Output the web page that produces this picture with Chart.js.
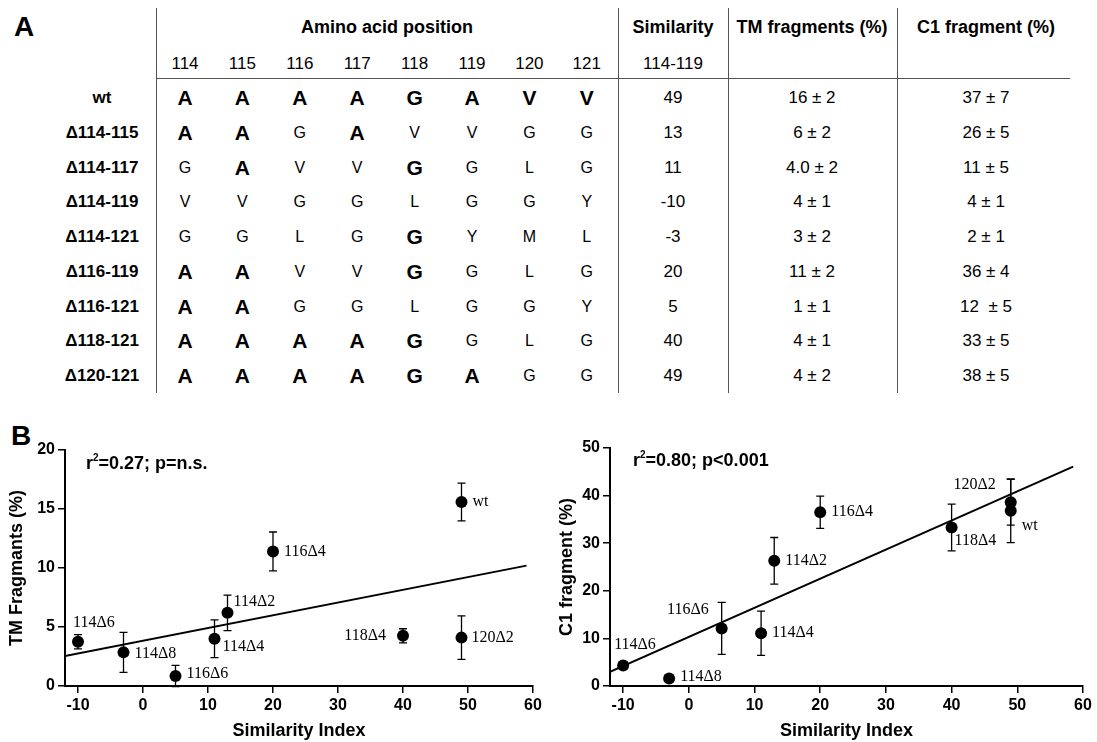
<!DOCTYPE html>
<html>
<head>
<meta charset="utf-8">
<script src="https://cdn.jsdelivr.net/npm/chart.js@4.4.1/dist/chart.umd.min.js"></script>
<style>
html,body{margin:0;padding:0;background:#fff;}
#page{position:relative;width:1097px;height:742px;overflow:hidden;font-family:"Liberation Sans",Arial,sans-serif;color:#000;background:#fff;}
.t{position:absolute;white-space:pre;transform:translate(-50%,-50%);line-height:1;}
.b{font-weight:bold;}
.rule{position:absolute;background:#555;}
canvas{position:absolute;}
</style>
</head>
<body>
<div id="page">
  <div id="table"></div>
  <canvas id="tmChart" width="550" height="322" style="left:0px;top:420px;width:550px;height:322px"></canvas>
  <canvas id="c1Chart" width="547" height="322" style="left:550px;top:420px;width:547px;height:322px"></canvas>
</div>
<script>
// ---------- Panel A data ----------
const positions = ['114','115','116','117','118','119','120','121'];
const mutants = ['wt','\u0394114-115','\u0394114-117','\u0394114-119','\u0394114-121','\u0394116-119','\u0394116-121','\u0394118-121','\u0394120-121'];
const sequences = [
  ['A','A','A','A','G','A','V','V'],
  ['A','A','G','A','V','V','G','G'],
  ['G','A','V','V','G','G','L','G'],
  ['V','V','G','G','L','G','G','Y'],
  ['G','G','L','G','G','Y','M','L'],
  ['A','A','V','V','G','G','L','G'],
  ['A','A','G','G','L','G','G','Y'],
  ['A','A','A','A','G','G','L','G'],
  ['A','A','A','A','G','A','G','G']
];
const similarityValues = ['49','13','11','-10','-3','20','5','40','49'];
const tmFragmentText = ['16 \u00b1 2','6 \u00b1 2','4.0 \u00b1 2','4 \u00b1 1','3 \u00b1 2','11 \u00b1 2','1 \u00b1 1','4 \u00b1 1','4 \u00b1 2'];
const c1FragmentText = ['37 \u00b1 7','26 \u00b1 5','11 \u00b1 5','4 \u00b1 1','2 \u00b1 1','36 \u00b1 4','12  \u00b1 5','33 \u00b1 5','38 \u00b1 5'];

// ---------- Panel B data ----------
const pointLabels = ['wt','114\u03942','114\u03944','114\u03946','114\u03948','116\u03944','116\u03946','118\u03944','120\u03942'];
const similarityIndex = [49, 13, 11, -10, -3, 20, 5, 40, 49];
const tmMean = [15.6, 6.2, 4.0, 3.75, 2.85, 11.4, 0.85, 4.25, 4.1];
const tmErr  = [1.6, 1.5, 1.6, 0.6, 1.7, 1.65, 0.9, 0.6, 1.85];
const c1Mean = [36.8, 26.3, 11.1, 4.3, 1.6, 36.5, 12.1, 33.3, 38.6];
const c1Err  = [6.7, 4.9, 4.65, 0.8, 0.8, 3.4, 5.45, 4.9, 4.8];
const tmFitX = [-12, 59];
const tmFitY = [2.55, 10.2];
const c1FitX = [-12, 58.5];
const c1FitY = [3.0, 46.1];
const xTickValues = [-10, 0, 10, 20, 30, 40, 50, 60];
const tmTickValues = [0, 5, 10, 15, 20];
const c1TickValues = [0, 10, 20, 30, 40, 50];

// ---------- build table (layout) ----------
const SANS = '"Liberation Sans", Arial, sans-serif';
const SERIF = '"Liberation Serif", "Times New Roman", serif';
const page = document.getElementById('table');
function txt(s, x, y, size, bold) {
  const d = document.createElement('div');
  d.className = 't' + (bold ? ' b' : '');
  d.textContent = s;
  d.style.left = x + 'px'; d.style.top = y + 'px'; d.style.fontSize = size + 'px';
  page.appendChild(d);
}
function rule(x, y, w, h) {
  const d = document.createElement('div');
  d.className = 'rule';
  d.style.left = x + 'px'; d.style.top = y + 'px'; d.style.width = w + 'px'; d.style.height = h + 'px';
  page.appendChild(d);
}
const colX = positions.map((_, i) => 185 + i * 57.4);
const rowY = mutants.map((_, i) => 97 + i * 34.75);
const simX = 673, tmX = 812, c1X = 986, labelX = 102;
txt('A', 24, 27, 28, true);
txt('Amino acid position', 387, 27, 18, true);
txt('Similarity', simX, 27, 18, true);
txt('TM fragments (%)', tmX, 27, 18, true);
txt('C1 fragment (%)', c1X, 27, 18, true);
positions.forEach((p, i) => txt(p, colX[i], 63, 17, false));
txt('114-119', simX, 63, 17, false);
rule(156, 8, 1, 385); rule(618, 8, 1, 385); rule(728, 8, 1, 385); rule(897, 8, 1, 385);
rule(156, 78, 914, 1);
mutants.forEach((m, r) => {
  txt(m, labelX, rowY[r], 17, true);
  sequences[r].forEach((aa, c) => {
    const same = aa === sequences[0][c];
    txt(aa, colX[c], rowY[r] + (same ? 0 : 1), same ? 21 : 16, same);
  });
  txt(similarityValues[r], simX, rowY[r], 17, false);
  txt(tmFragmentText[r], tmX, rowY[r], 17, false);
  txt(c1FragmentText[r], c1X, rowY[r], 17, false);
});
// B label
txt('B', 21, 436, 28, true);

// ---------- charts ----------
function overlayPlugin(errors, labelOffsets, note) {
  return {
    id: 'overlay',
    afterDatasetsDraw(chart) {
      const ctx = chart.ctx, xs = chart.scales.x, ys = chart.scales.y;
      const pts = chart.data.datasets[1].data;
      ctx.save();
      ctx.strokeStyle = '#000'; ctx.lineWidth = 1.3;
      pts.forEach((p, i) => {
        const e = errors[i];
        const px = xs.getPixelForValue(p.x);
        const t = ys.getPixelForValue(p.y + e), b = ys.getPixelForValue(p.y - e);
        ctx.beginPath();
        ctx.moveTo(px, t); ctx.lineTo(px, b);
        ctx.moveTo(px - 4, t); ctx.lineTo(px + 4, t);
        ctx.moveTo(px - 4, b); ctx.lineTo(px + 4, b);
        ctx.stroke();
      });
      ctx.fillStyle = '#000';
      ctx.font = '16px ' + SERIF;
      ctx.textBaseline = 'middle';
      pts.forEach((p, i) => {
        const o = labelOffsets[pointLabels[i]];
        ctx.textAlign = o[2];
        ctx.fillText(pointLabels[i], xs.getPixelForValue(p.x) + o[0], ys.getPixelForValue(p.y) + o[1]);
      });
      // correlation note
      const ca = chart.chartArea;
      let x = ca.left + note.dx, y = ca.top + note.dy;
      ctx.textAlign = 'left';
      ctx.font = 'bold 18px ' + SANS;
      ctx.fillText('r', x, y);
      x += ctx.measureText('r').width;
      ctx.font = 'bold 10px ' + SANS;
      ctx.fillText('2', x, y - 6);
      x += ctx.measureText('2').width;
      ctx.font = 'bold 18px ' + SANS;
      ctx.fillText(note.text, x, y);
      ctx.restore();
    }
  };
}

function makeChart(id, opt) {
  const points = similarityIndex.map((x, i) => ({x: x, y: opt.mean[i]}));
  const fit = opt.fitX.map((x, i) => ({x: x, y: opt.fitY[i]}));
  const tickFont = {family: SANS, size: 16, weight: 'bold'};
  const titleFont = {family: SANS, size: 18, weight: 'bold'};
  return new Chart(document.getElementById(id), {
    type: 'scatter',
    data: {
      datasets: [
        {type: 'line', data: fit, showLine: true, borderColor: '#000', borderWidth: 2, pointRadius: 0, fill: false},
        {data: points, pointRadius: 6, pointBackgroundColor: '#000', pointBorderColor: '#000', pointBorderWidth: 0}
      ]
    },
    options: {
      responsive: false, animation: false,
      layout: {padding: opt.padding},
      plugins: {legend: {display: false}, tooltip: {enabled: false}},
      scales: {
        x: {
          type: 'linear', min: -12, max: 60,
          afterBuildTicks: s => { s.ticks = xTickValues.map(v => ({value: v})); },
          afterFit: s => { s.height = 56; },
          grid: {display: true, drawOnChartArea: false, drawTicks: true, tickLength: 7, color: '#000', lineWidth: 1.5},
          border: {display: true, color: '#000', width: 2},
          ticks: {color: '#000', font: tickFont, padding: 3, maxRotation: 0, autoSkip: false},
          title: {display: true, text: 'Similarity Index', color: '#000', font: titleFont, padding: {top: 0, bottom: 0}}
        },
        y: {
          type: 'linear', min: opt.yTicks[0], max: opt.yTicks[opt.yTicks.length - 1],
          afterBuildTicks: s => { s.ticks = opt.yTicks.map(v => ({value: v})); },
          afterFit: s => { s.width = opt.yWidth; },
          grid: {display: true, drawOnChartArea: false, drawTicks: true, tickLength: 7, color: '#000', lineWidth: 1.5},
          border: {display: true, color: '#000', width: 2},
          ticks: {color: '#000', font: tickFont, padding: 3, autoSkip: false},
          title: {display: true, text: opt.yTitle, color: '#000', font: titleFont, padding: {top: 6, bottom: 0}}
        }
      }
    },
    plugins: [overlayPlugin(opt.err, opt.offsets, opt.note)]
  });
}

makeChart('tmChart', {
  mean: tmMean, err: tmErr, fitX: tmFitX, fitY: tmFitY, yTicks: tmTickValues,
  yTitle: 'TM Fragmants (%)', yWidth: 65,
  padding: {left: 0, top: 30, right: 17, bottom: 0},
  note: {dx: 21, dy: 14, text: '=0.27; p=n.s.'},
  offsets: {
    'wt': [11, 0, 'left'], '114\u03942': [6, -11, 'left'], '114\u03944': [8, 8, 'left'],
    '114\u03946': [-5, -19, 'left'], '114\u03948': [11, 1, 'left'], '116\u03944': [11, 0, 'left'],
    '116\u03946': [11, -2, 'left'], '118\u03944': [-17, 0, 'right'], '120\u03942': [10, 0, 'left']
  }
});
makeChart('c1Chart', {
  mean: c1Mean, err: c1Err, fitX: c1FitX, fitY: c1FitY, yTicks: c1TickValues,
  yTitle: 'C1 fragment (%)', yWidth: 60,
  padding: {left: 0, top: 28, right: 14, bottom: 0},
  note: {dx: 23, dy: 13, text: '=0.80; p<0.001'},
  offsets: {
    'wt': [11, 15, 'left'], '114\u03942': [11, 0, 'left'], '114\u03944': [11, 0, 'left'],
    '114\u03946': [-9, -21, 'left'], '114\u03948': [11, -2, 'left'], '116\u03944': [11, 0, 'left'],
    '116\u03946': [-13, -19, 'right'], '118\u03944': [3, 13, 'left'], '120\u03942': [-15, -17, 'right']
  }
});
</script>
</body>
</html>
